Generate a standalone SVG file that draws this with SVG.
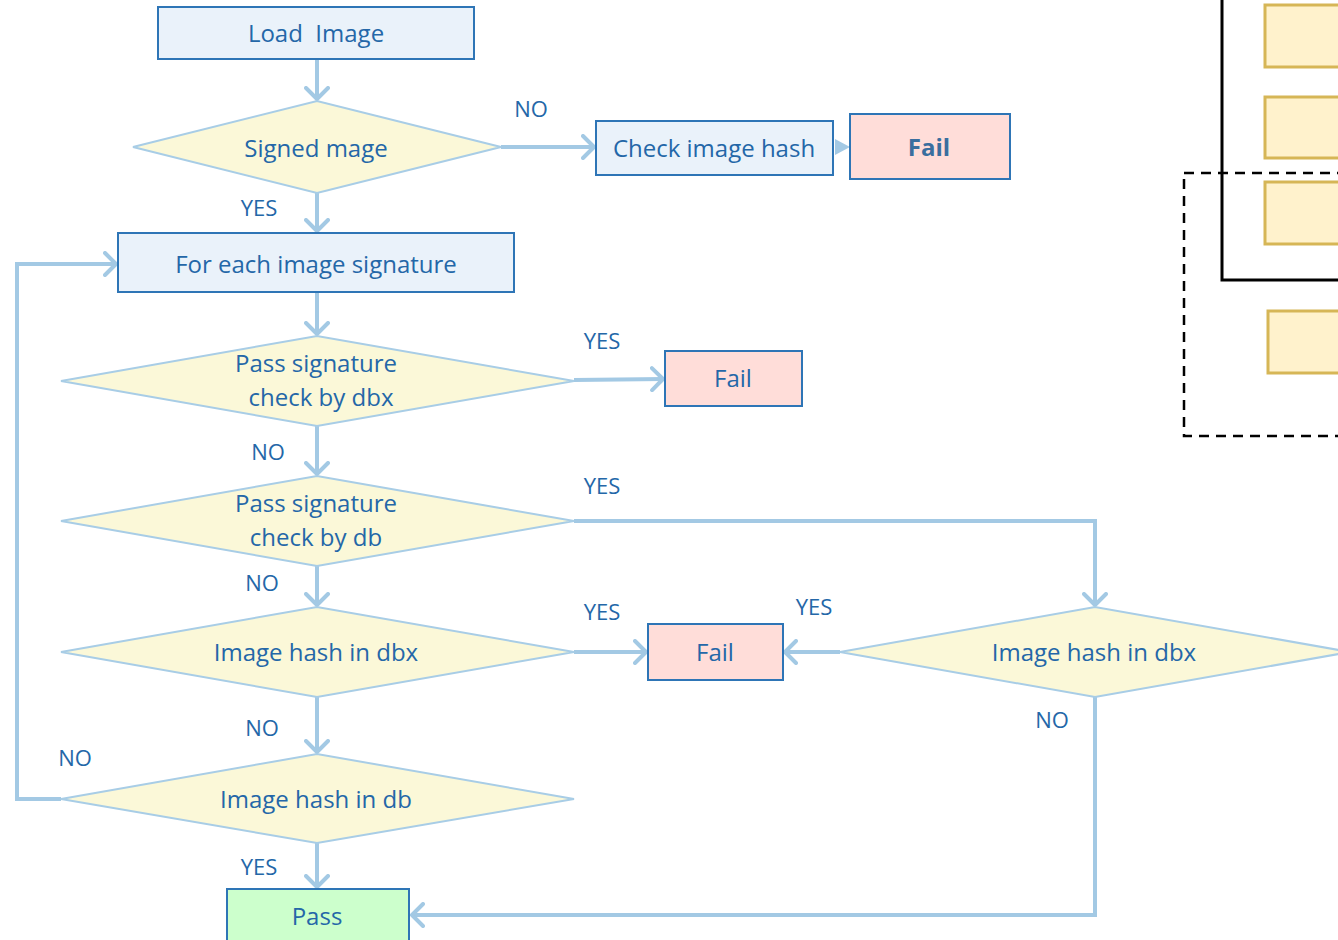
<svg xmlns="http://www.w3.org/2000/svg" width="1338" height="940" viewBox="0 0 1338 940">
<style>
.t{font-family:"Open Sans",Lato,sans-serif;font-size:24px;fill:#2467A8;text-anchor:middle;dominant-baseline:central}
.l{font-family:"Open Sans",Lato,sans-serif;font-size:22px;fill:#2467A8;text-anchor:middle;dominant-baseline:central}
.box{fill:#EAF2FA;stroke:#2E75B6;stroke-width:2}
.fail{fill:#FFDDD9;stroke:#2E75B6;stroke-width:2}
.dia{fill:#FBF8D8;stroke:#A8CDE6;stroke-width:2}
.pass{fill:#CCFFCC;stroke:#2E75B6;stroke-width:2}
.c{fill:none;stroke:#A3C9E4;stroke-width:4}
.y{fill:#FFF2CC;stroke:#D6B656;stroke-width:3}
</style>
<defs>
<marker id="ah" markerUnits="userSpaceOnUse" viewBox="0 0 16 26" refX="14" refY="13" markerWidth="16" markerHeight="26" orient="auto">
<path d="M2,2 L13,13 L2,24" fill="none" stroke="#A3C9E4" stroke-width="4" stroke-linecap="round" stroke-linejoin="round"/>
</marker>
</defs>
<rect width="1338" height="940" fill="#FFFFFF"/>

<g id="legend">
<rect x="1222" y="-10" width="140" height="290" fill="none" stroke="#000" stroke-width="3"/>
<rect x="1184" y="173" width="170" height="263" fill="none" stroke="#000" stroke-width="2.5" stroke-dasharray="10,7"/>
<rect x="1265" y="5" width="90" height="62" class="y"/>
<rect x="1265" y="97" width="90" height="61" class="y"/>
<rect x="1265" y="182" width="90" height="62" class="y"/>
<rect x="1268" y="311" width="90" height="62" class="y"/>
</g>

<g id="connectors">
<line x1="317" y1="59" x2="317" y2="100" class="c" marker-end="url(#ah)"/>
<line x1="501" y1="147" x2="595" y2="147" class="c" marker-end="url(#ah)"/>
<polygon points="835,139 850,147 835,155" fill="#A3C9E4"/>
<line x1="317" y1="193" x2="317" y2="232" class="c" marker-end="url(#ah)"/>
<line x1="317" y1="292" x2="317" y2="335" class="c" marker-end="url(#ah)"/>
<line x1="574" y1="380" x2="664" y2="379" class="c" marker-end="url(#ah)"/>
<line x1="317" y1="426" x2="317" y2="475" class="c" marker-end="url(#ah)"/>
<polyline points="574,521 1095,521 1095,606" class="c" marker-end="url(#ah)"/>
<line x1="317" y1="566" x2="317" y2="606" class="c" marker-end="url(#ah)"/>
<line x1="574" y1="652" x2="647" y2="652" class="c" marker-end="url(#ah)"/>
<line x1="840" y1="652" x2="784" y2="652" class="c" marker-end="url(#ah)"/>
<polyline points="1095,697 1095,915 411,915" class="c" marker-end="url(#ah)"/>
<line x1="317" y1="697" x2="317" y2="753" class="c" marker-end="url(#ah)"/>
<polyline points="61,799 17,799 17,264 117,264" class="c" marker-end="url(#ah)"/>
<line x1="317" y1="843" x2="317" y2="888" class="c" marker-end="url(#ah)"/>
<text x="531" y="108" class="l">NO</text>
<text x="259" y="207" class="l">YES</text>
<text x="602" y="340" class="l">YES</text>
<text x="268" y="451" class="l">NO</text>
<text x="602" y="485" class="l">YES</text>
<text x="262" y="582" class="l">NO</text>
<text x="602" y="611" class="l">YES</text>
<text x="814" y="606" class="l">YES</text>
<text x="1052" y="719" class="l">NO</text>
<text x="262" y="727" class="l">NO</text>
<text x="75" y="757" class="l">NO</text>
<text x="259" y="866" class="l">YES</text>
</g>

<g id="load-image">
<rect x="158" y="7" width="316" height="52" class="box"/>
<text x="316" y="32" class="t" xml:space="preserve">Load  Image</text>
</g>
<g id="signed-image">
<polygon points="133,147 317,101 501,147 317,193" class="dia"/>
<text x="316" y="147" class="t">Signed mage</text>
</g>
<g id="check-hash">
<rect x="596" y="121" width="237" height="54" class="box"/>
<text x="714" y="147" class="t">Check image hash</text>
</g>
<g id="fail-1">
<rect x="850" y="114" width="160" height="65" class="fail" stroke-width="2.5"/>
<text x="929" y="146" class="t" style="font-size:24px;font-weight:bold;fill:#3A6E9E">Fail</text>
</g>
<g id="for-each">
<rect x="118" y="233" width="396" height="59" class="box"/>
<text x="316" y="263" class="t">For each image signature</text>
</g>
<g id="check-dbx">
<polygon points="61,381 317,336 574,381 317,426" class="dia"/>
<text x="316" y="362" class="t">Pass signature</text>
<text x="321" y="396" class="t">check by dbx</text>
</g>
<g id="fail-2">
<rect x="665" y="351" width="137" height="55" class="fail"/>
<text x="733" y="377" class="t">Fail</text>
</g>
<g id="check-db">
<polygon points="61,521 317,476 574,521 317,566" class="dia"/>
<text x="316" y="502" class="t">Pass signature</text>
<text x="316" y="536" class="t">check by db</text>
</g>
<g id="hash-dbx-1">
<polygon points="61,652 317,607 574,652 317,697" class="dia"/>
<text x="316" y="651" class="t">Image hash in dbx</text>
</g>
<g id="fail-3">
<rect x="648" y="624" width="135" height="56" class="fail"/>
<text x="715" y="651" class="t">Fail</text>
</g>
<g id="hash-dbx-2">
<polygon points="840,652 1095,607 1350,652 1095,697" class="dia"/>
<text x="1094" y="651" class="t">Image hash in dbx</text>
</g>
<g id="hash-db">
<polygon points="61,799 317,754 574,799 317,843" class="dia"/>
<text x="316" y="798" class="t">Image hash in db</text>
</g>
<g id="pass">
<rect x="227" y="889" width="182" height="62" class="pass"/>
<text x="317" y="915" class="t">Pass</text>
</g>
</svg>
